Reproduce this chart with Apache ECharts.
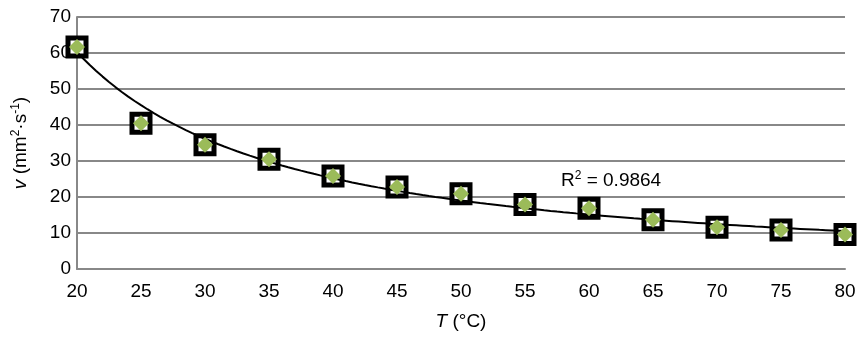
<!DOCTYPE html>
<html>
<head>
<meta charset="utf-8">
<script src="https://cdn.jsdelivr.net/npm/echarts@6/dist/echarts.min.js"></script>
<style>
  html, body { margin: 0; padding: 0; background: #ffffff; }
  #chart { width: 863px; height: 338px; }
</style>
</head>
<body>
<div id="chart"></div>
<script>
// temperature (°C) and kinematic viscosity
var temps = [20, 25, 30, 35, 40, 45, 50, 55, 60, 65, 70, 75, 80];
var visc = [61.7, 40.5, 34.5, 30.5, 25.8, 22.8, 20.9, 17.9, 16.9, 13.7, 11.6, 10.8, 9.6];
var rSquaredText = 'R{sup|2} = 0.9864';

// power trendline v = a * T^b, least squares in log space
function powerFit(xs, ys) {
  var n = xs.length, sx = 0, sy = 0, sxx = 0, sxy = 0;
  for (var i = 0; i < n; i++) {
    var lx = Math.log(xs[i]), ly = Math.log(ys[i]);
    sx += lx; sy += ly; sxx += lx * lx; sxy += lx * ly;
  }
  var b = (n * sxy - sx * sy) / (n * sxx - sx * sx);
  var a = Math.exp((sy - b * sx) / n);
  return { a: a, b: b };
}
var fit = powerFit(temps, visc);
var trend = [];
for (var t = 20; t <= 80; t += 0.5) {
  trend.push([t, fit.a * Math.pow(t, fit.b)]);
}

var points = temps.map(function (t, i) { return [t, visc[i]]; });

var font = 'Liberation Sans, Arial, Helvetica, sans-serif';
var chart = echarts.init(document.getElementById('chart'), null, { renderer: 'canvas' });
chart.setOption({
  animation: false,
  grid: { left: 77, right: 18, top: 17, bottom: 69 },
  xAxis: {
    type: 'value', min: 20, max: 80, interval: 5,
    axisLine: { show: true, lineStyle: { color: '#888888', width: 2 } },
    axisTick: { show: false },
    splitLine: { show: false },
    axisLabel: { color: '#000', fontSize: 19, fontFamily: font, margin: 13 },
    name: '{i|T} (°C)',
    nameLocation: 'middle',
    nameGap: 43,
    nameTextStyle: {
      color: '#000', fontSize: 19, fontFamily: font,
      rich: { i: { fontStyle: 'italic', fontSize: 19, fontFamily: font, color: '#000' } }
    }
  },
  yAxis: {
    type: 'value', min: 0, max: 70, interval: 10,
    axisLine: { show: true, lineStyle: { color: '#888888', width: 2 } },
    axisTick: { show: false },
    splitLine: { show: true, lineStyle: { color: '#888888', width: 2 } },
    axisLabel: { color: '#000', fontSize: 19, fontFamily: font, margin: 6 },
    name: '{i|v} (mm{sup|2}·s{sup|-1})',
    nameLocation: 'middle',
    nameGap: 46,
    nameTextStyle: {
      color: '#000', fontSize: 19, fontFamily: font,
      rich: {
        i: { fontStyle: 'italic', fontSize: 19, fontFamily: font, color: '#000' },
        sup: { fontSize: 12, fontFamily: font, color: '#000', verticalAlign: 'top', padding: [0, 0, 9, 0] }
      }
    }
  },
  series: [
    {
      name: 'trend', type: 'line', data: trend, showSymbol: false, smooth: false,
      lineStyle: { color: '#000', width: 2 }, z: 3
    },
    {
      name: 'box', type: 'scatter', data: points, symbol: 'rect', symbolSize: 18,
      itemStyle: { color: '#ffffff', borderColor: '#000', borderWidth: 5, opacity: 1 }, z: 2
    },
    {
      name: 'v', type: 'scatter', data: points, symbol: 'diamond', symbolSize: 16,
      itemStyle: { color: '#9bbb59', opacity: 1 }, z: 4
    }
  ],
  graphic: [{
    type: 'text', left: 561, top: 170,
    style: {
      text: rSquaredText,
      font: '19px ' + font,
      fill: '#000',
      rich: { sup: { fontSize: 12, fontFamily: font, fill: '#000', padding: [0, 0, 9, 0] } }
    }
  }]
});
</script>
</body>
</html>
